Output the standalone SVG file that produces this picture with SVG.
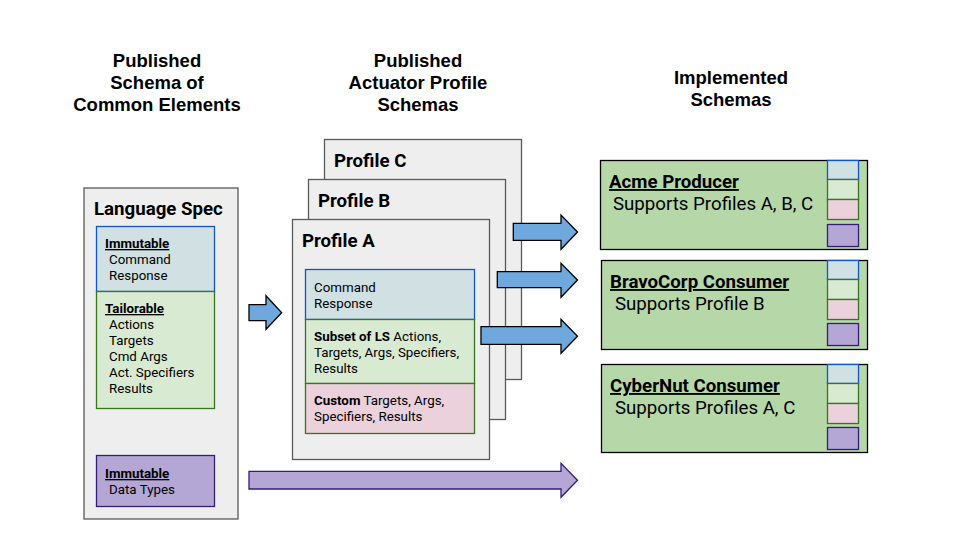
<svg xmlns="http://www.w3.org/2000/svg" width="960" height="540" viewBox="0 0 960 540">
<style>
.hdr{font-family:"Liberation Sans",Arial,sans-serif;font-weight:bold;font-size:18.5px;fill:#000;text-anchor:middle}
.t{font-family:Roboto,"Noto Sans",sans-serif;fill:#000}
.s13{font-size:13.33px}
.s18{font-size:18.67px}
.b{font-weight:bold}
.u{text-decoration:underline}
.gray{fill:#eeeeee;stroke:#595959;stroke-width:1.3}
.blue{fill:#d0e0e3;stroke:#1155cc;stroke-width:1.3}
.green{fill:#d9ead3;stroke:#38761d;stroke-width:1.3}
.pink{fill:#ead1dc;stroke:#38761d;stroke-width:1.3}
.purple{fill:#b4a7d6;stroke:#351c75;stroke-width:1.3}
.impl{fill:#b6d7a8;stroke:#000;stroke-width:1.3}
.barrow{fill:#6fa8dc;stroke:#000;stroke-width:1.3}
.parrow{fill:#b4a7d6;stroke:#351c75;stroke-width:1.3}
</style>
<rect width="960" height="540" fill="#ffffff"/>

<g id="headers">
<text class="hdr" x="157" y="67">Published</text>
<text class="hdr" x="157" y="89">Schema of</text>
<text class="hdr" x="157" y="111">Common Elements</text>
<text class="hdr" x="418" y="67">Published</text>
<text class="hdr" x="418" y="89">Actuator Profile</text>
<text class="hdr" x="418" y="111">Schemas</text>
<text class="hdr" x="731" y="84">Implemented</text>
<text class="hdr" x="731" y="106">Schemas</text>
</g>

<g id="language-spec">
<rect class="gray" x="84" y="188" width="154" height="331"/>
<text class="t s18 b" x="94" y="215">Language Spec</text>
<rect class="blue" x="96.5" y="226.5" width="118" height="65"/>
<text class="t s13 b u" x="105" y="248">Immutable</text>
<text class="t s13" x="109" y="264">Command</text>
<text class="t s13" x="109" y="280">Response</text>
<rect class="green" x="96.5" y="291.5" width="118" height="117"/>
<text class="t s13 b u" x="105" y="313">Tailorable</text>
<text class="t s13" x="109" y="329">Actions</text>
<text class="t s13" x="109" y="345">Targets</text>
<text class="t s13" x="109" y="361">Cmd Args</text>
<text class="t s13" x="109" y="377">Act. Specifiers</text>
<text class="t s13" x="109" y="393">Results</text>
<rect class="purple" x="96.5" y="455.5" width="118" height="51"/>
<text class="t s13 b u" x="105" y="478">Immutable</text>
<text class="t s13" x="109" y="494">Data Types</text>
</g>

<g id="profile-c">
<rect class="gray" x="324.5" y="139.5" width="197" height="240"/>
<text class="t s18 b" x="334" y="167">Profile C</text>
</g>
<g id="profile-b">
<rect class="gray" x="308.5" y="179.5" width="197" height="240"/>
<text class="t s18 b" x="318" y="207">Profile B</text>
</g>
<g id="profile-a">
<rect class="gray" x="292.5" y="219.5" width="197" height="240"/>
<text class="t s18 b" x="302" y="247">Profile A</text>
<rect class="blue" x="305.5" y="269.5" width="169" height="50"/>
<text class="t s13" x="314" y="292">Command</text>
<text class="t s13" x="314" y="308">Response</text>
<rect class="green" x="305.5" y="319.5" width="169" height="64"/>
<text class="t s13" x="314" y="341"><tspan class="b">Subset of LS</tspan> Actions,</text>
<text class="t s13" x="314" y="357">Targets, Args, Specifiers,</text>
<text class="t s13" x="314" y="373">Results</text>
<rect class="pink" x="305.5" y="383.5" width="169" height="50"/>
<text class="t s13" x="314" y="405"><tspan class="b">Custom</tspan> Targets, Args,</text>
<text class="t s13" x="314" y="421">Specifiers, Results</text>
</g>

<g id="acme">
<rect class="impl" x="600.5" y="160.5" width="267" height="89"/>
<rect class="blue" x="827.5" y="160.5" width="31" height="19"/>
<rect class="green" x="827.5" y="179.5" width="31" height="20"/>
<rect class="pink" x="827.5" y="199.5" width="31" height="20"/>
<rect class="purple" x="827.5" y="224.5" width="31" height="22"/>
<text class="t s18 b u" x="609" y="188">Acme Producer</text>
<text class="t s18" x="613" y="210">Supports Profiles A, B, C</text>
</g>

<g id="bravocorp">
<rect class="impl" x="601.5" y="260.5" width="266" height="89"/>
<rect class="blue" x="827.5" y="260.5" width="31" height="19"/>
<rect class="green" x="827.5" y="279.5" width="31" height="20"/>
<rect class="pink" x="827.5" y="299.5" width="31" height="20"/>
<rect class="purple" x="827.5" y="323.5" width="31" height="22"/>
<text class="t s18 b u" x="610" y="288">BravoCorp Consumer</text>
<text class="t s18" x="615" y="310">Supports Profile B</text>
</g>

<g id="cybernut">
<rect class="impl" x="601.5" y="364.5" width="266" height="88"/>
<rect class="blue" x="827.5" y="364.5" width="31" height="19"/>
<rect class="green" x="827.5" y="383.5" width="31" height="20"/>
<rect class="pink" x="827.5" y="403.5" width="31" height="20"/>
<rect class="purple" x="827.5" y="427.5" width="31" height="22"/>
<text class="t s18 b u" x="610" y="392">CyberNut Consumer</text>
<text class="t s18" x="615" y="414">Supports Profiles A, C</text>
</g>

<g id="connectors">
<polygon class="barrow" points="249,304.7 266,304.7 266,295.7 281.7,312.7 266,329.3 266,320.7 249,320.7"/>
<polygon class="barrow" points="513.3,223.3 561,223.3 561,215 577.5,232 561,249.3 561,240.3 513.3,240.3"/>
<polygon class="barrow" points="497.3,271.7 561,271.7 561,263.3 577.5,280 561,297.3 561,287.7 497.3,287.7"/>
<polygon class="barrow" points="481,326.7 561,326.7 561,319.3 577.5,336.3 561,353.3 561,344.3 481,344.3"/>
<polygon class="parrow" points="249,471.3 561,471.3 561,463.3 577.5,480.3 561,497.3 561,489 249,489"/>
</g>
</svg>
